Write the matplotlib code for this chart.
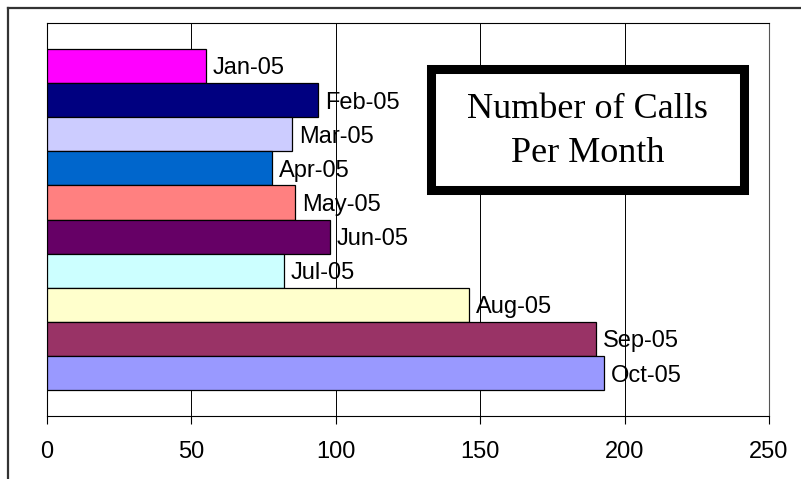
import matplotlib
matplotlib.use('Agg')
import matplotlib.pyplot as plt
from matplotlib.patches import Rectangle
from matplotlib.lines import Line2D

# Data
months = ['Jan-05', 'Feb-05', 'Mar-05', 'Apr-05', 'May-05',
          'Jun-05', 'Jul-05', 'Aug-05', 'Sep-05', 'Oct-05']
calls = [55, 94, 85, 78, 86, 98, 82, 146, 190, 193]
bar_colors = ['#FF00FF', '#000080', '#CCCCFF', '#0066CC', '#FF8080',
              '#660066', '#CCFFFF', '#FFFFCC', '#993366', '#9999FF']
x_ticks = [0, 50, 100, 150, 200, 250]

W, H = 801, 479
fig = plt.figure(figsize=(W / 100, H / 100), dpi=100)

# plot area in pixel coordinates of the reference
left, right, top, bottom = 46.7, 769.0, 23.3, 415.7
ax = fig.add_axes([left / W, 1 - bottom / H, (right - left) / W, (bottom - top) / H])

pos = list(range(len(months)))
ax.barh(pos, calls, height=1.0, color=bar_colors, edgecolor='black',
        linewidth=0.9, zorder=3)

for p, v, m in zip(pos, calls, months):
    ax.annotate(m, xy=(v, p), xytext=(7, 0), textcoords='offset pixels',
                ha='left', va='center_baseline', fontsize=17,
                family='Liberation Sans', zorder=5)

ax.set_xlim(0, 250)
ax.set_ylim(len(months) - 0.5 + 0.75, -0.5 - 0.75)
ax.set_xticks(x_ticks)
ax.set_yticks([])
ax.tick_params(axis='x', direction='out', length=5.5, width=0.8,
               pad=13, labelsize=17)
for lab in ax.get_xticklabels():
    lab.set_family('Liberation Sans')

ax.grid(axis='x', color='black', linewidth=0.7, zorder=0)
ax.set_axisbelow(True)
for side in ['top', 'bottom', 'left']:
    ax.spines[side].set_color('black')
    ax.spines[side].set_linewidth(0.8)
ax.spines['right'].set_color('#555555')
ax.spines['right'].set_linewidth(0.8)

# title box with heavy border
bx0, bx1, by0, by1 = 431.2, 744.2, 69.5, 189.8
fig.patches.append(Rectangle((bx0 / W, 1 - by1 / H), (bx1 - bx0) / W, (by1 - by0) / H,
                             transform=fig.transFigure, facecolor='white',
                             edgecolor='black', linewidth=6.5, zorder=10))
cx = (bx0 + bx1) / 2 / W
fig.text(cx, 1 - 118.3 / H, 'Number of Calls', ha='center', va='baseline',
         fontsize=26, family='Liberation Serif', zorder=11)
fig.text(cx, 1 - 161.7 / H, 'Per Month', ha='center', va='baseline',
         fontsize=26, family='Liberation Serif', zorder=11)

# outer chart border (only left and top edges visible)
fig.lines.append(Line2D([7.5 / W, 7.5 / W], [0, 1 - 8 / H], transform=fig.transFigure,
                        color='#333333', linewidth=1.6))
fig.lines.append(Line2D([7.5 / W, 1], [1 - 8 / H, 1 - 8 / H], transform=fig.transFigure,
                        color='#333333', linewidth=1.6))

fig.savefig('out.png', dpi=100)
